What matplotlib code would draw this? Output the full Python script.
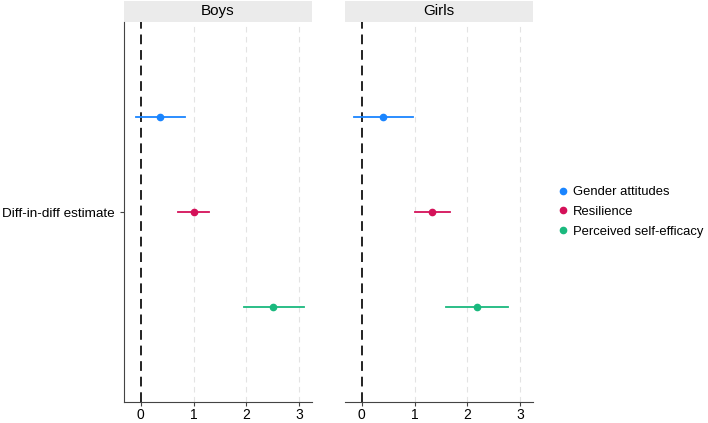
import matplotlib.pyplot as plt
from matplotlib.patches import Rectangle
from matplotlib.lines import Line2D

plt.rcParams['font.family'] = ['Liberation Sans', 'DejaVu Sans']

# data
panels = ['Boys', 'Girls']
outcomes = ['Gender attitudes', 'Resilience', 'Perceived self-efficacy']
colors = ['#1a85ff', '#d41159', '#1ab97e']
offsets = [0.25, 0.0, -0.25]

est = {'Boys': [0.36, 1.00, 2.51], 'Girls': [0.41, 1.34, 2.19]}
lo = {'Boys': [-0.10, 0.70, 1.96], 'Girls': [-0.15, 1.00, 1.60]}
hi = {'Boys': [0.84, 1.30, 3.09], 'Girls': [0.97, 1.67, 2.78]}

fig = plt.figure(figsize=(7.08, 4.23), dpi=100)
W, H = 708, 423
lefts = [124, 345]
pw = 188
top, bot = 22, 402

for i, p in enumerate(panels):
    ax = fig.add_axes([lefts[i] / W, 1 - bot / H, pw / W, (bot - top) / H])
    ax.set_xlim(-0.32, 3.25)
    ax.set_ylim(-0.5, 0.5)
    for g in [1, 2, 3]:
        ax.axvline(g, color='#e3e3e3', lw=0.8, ls=(0, (5, 4)), zorder=0)
    ax.axvline(0, color='#222222', lw=1.4, ls=(0, (5, 3)), zorder=1)
    for k in range(3):
        y = offsets[k]
        ax.plot([lo[p][k], hi[p][k]], [y, y], color=colors[k], lw=1.3, zorder=2)
        ax.plot(est[p][k], y, 'o', color=colors[k], ms=4.5, zorder=3)
    ax.set_xticks([0, 1, 2, 3])
    ax.tick_params(axis='x', labelsize=10, color='#444444', length=3, pad=1.5)
    for s in ['top', 'right']:
        ax.spines[s].set_visible(False)
    ax.spines['bottom'].set_color('#444444')
    if i == 0:
        ax.set_yticks([0])
        ax.set_yticklabels(['Diff-in-diff estimate'], fontsize=9.7)
        ax.tick_params(axis='y', color='#444444', length=3)
        ax.spines['left'].set_color('#444444')
    else:
        ax.set_yticks([])
        ax.spines['left'].set_visible(False)
    # strip header
    ax.add_patch(Rectangle((0, 1.0), 1, 21 / (bot - top), transform=ax.transAxes,
                           facecolor='#ebebeb', edgecolor='none', clip_on=False))
    ax.text(0.5, 1.0 + 11 / (bot - top), p, transform=ax.transAxes,
            ha='center', va='center', fontsize=11)

handles = [Line2D([], [], marker='o', ls='none', color=c, ms=4.5) for c in colors]
fig.legend(handles, outcomes, loc='center left', bbox_to_anchor=(557.5 / W, 1 - 212 / H),
           frameon=False, fontsize=9.4, handlelength=0.8, handletextpad=0.35,
           borderpad=0, borderaxespad=0, labelspacing=0.6)

fig.savefig('out.png', dpi=100)
